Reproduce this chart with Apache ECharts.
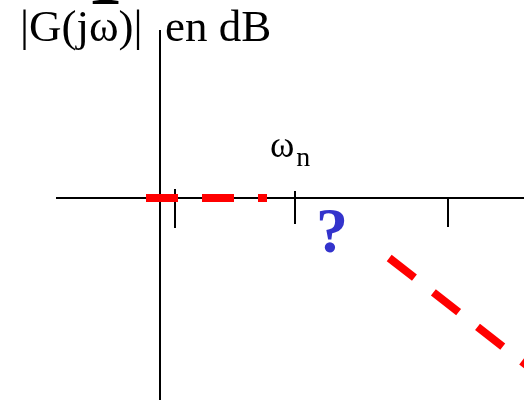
<!DOCTYPE html>
<html>
<head>
<meta charset="utf-8">
<style>
  html, body { margin: 0; padding: 0; background: #fff; }
  #chart { width: 524px; height: 402px; }
</style>
<script src="https://cdn.jsdelivr.net/npm/echarts@6/dist/echarts.min.js"></script>
</head>
<body>
<div id="chart"></div>
<script>
// units: abscissa ~ log(omega), ordinate ~ |G| en dB (arbitrary sketch units)
const xAxisLine = [[-2.6, 0], [9.1, 0]]
const yAxisLine = [[0, 4.2], [0, -5.05]]
// graduations: [x, top, bottom]
const ticks = [[0.375, 0.225, -0.75], [3.375, 0.175, -0.65], [7.2, 0, -0.725]]
// asymptote basse frequence (0 dB)
const lowAsymptote = [[-0.35, 0], [2.675, 0]]
// asymptote haute frequence (pente)
const highAsymptote = [[5.73, -1.5], [9.5, -4.44]]

const serif = '"Liberation Serif", "Times New Roman", serif'
const black = '#000'
const red = '#ff0000'

const chart = echarts.init(document.getElementById('chart'))

chart.setOption({
  animation: false,
  grid: { left: 0, right: 0, top: 0, bottom: 0, containLabel: false },
  xAxis: { type: 'value', min: -4, max: 9.1, show: false },
  yAxis: { type: 'value', min: -5.1, max: 4.95, show: false },
  series: [
    {
      type: 'line',
      data: xAxisLine,
      symbol: 'none',
      lineStyle: { color: black, width: 2 },
      z: 1
    },
    {
      type: 'line',
      data: yAxisLine,
      symbol: 'none',
      lineStyle: { color: black, width: 2 },
      z: 1
    },
    {
      type: 'custom',
      data: ticks,
      renderItem: (params, api) => {
        const p1 = api.coord([api.value(0), api.value(1)])
        const p2 = api.coord([api.value(0), api.value(2)])
        return {
          type: 'line',
          shape: { x1: p1[0], y1: p1[1], x2: p2[0], y2: p2[1] },
          style: { stroke: black, lineWidth: 2 }
        }
      },
      z: 1
    },
    {
      type: 'line',
      data: lowAsymptote,
      symbol: 'none',
      lineStyle: { color: red, width: 8, type: [32, 24], cap: 'butt' },
      z: 3
    },
    {
      type: 'line',
      data: highAsymptote,
      symbol: 'none',
      clip: true,
      lineStyle: { color: red, width: 8, type: [32, 24], cap: 'butt' },
      z: 3
    }
  ],
  graphic: [
    {
      // bas d'une lettre du titre, coupe par le bord
      type: 'text',
      x: 90,
      y: -57,
      style: { text: 'I', font: 'bold 80px ' + serif, fill: black, verticalAlign: 'top' }
    },
    {
      type: 'text',
      x: 20,
      y: 7,
      style: { text: '|G(jω)|', font: '45px ' + serif, fill: black, verticalAlign: 'top' }
    },
    {
      type: 'text',
      x: 165,
      y: 7,
      style: { text: 'en dB', font: '45px ' + serif, fill: black, verticalAlign: 'top' }
    },
    {
      type: 'text',
      x: 270,
      y: 121,
      style: {
        text: '{w|ω}{n|n}',
        verticalAlign: 'top',
        rich: {
          w: { font: '37px ' + serif, fill: black },
          n: { font: '28px ' + serif, fill: black, padding: [24, 0, 0, 2] }
        }
      }
    },
    {
      type: 'text',
      x: 316,
      y: 203,
      style: { text: '?', font: 'bold 64px ' + serif, fill: '#3333cc', verticalAlign: 'top' }
    }
  ]
})
</script>
</body>
</html>
